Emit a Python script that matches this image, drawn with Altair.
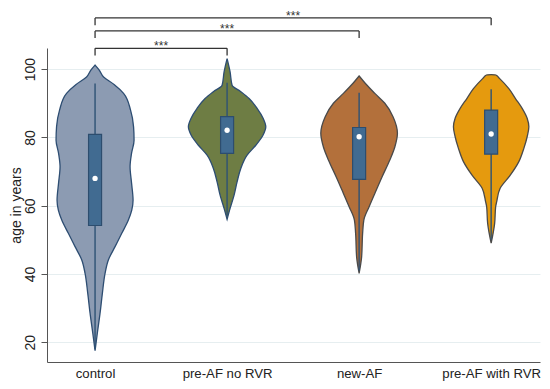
import altair as alt
import pandas as pd

# ---- data ----
categories = ["control", "pre-AF no RVR", "new-AF", "pre-AF with RVR"]
fill_colors = ["#8c9bb2", "#6e7d44", "#b3703b", "#e59a0e"]
line_colors = ["#2d4d72", "#2d4d72", "#4a4a4a", "#4a4a4a"]

# violin outlines: age values and half-width (density, px units) at each age
control_age = [101.2, 99.8, 97.7, 95.5, 92.9, 88.0, 83.1, 79.2, 75.4, 71.4, 66.6, 61.6, 58.7, 55.8, 51.9, 48.0, 44.1, 40.2, 34.3, 28.5, 22.7, 17.5]
control_w   = [0.0,   4.0,  8.5,  19.0, 28.5, 35.5, 38.5, 39.0, 36.5, 35.0, 36.5, 38.0, 36.7, 33.3, 26.7, 20.0, 13.3, 10.0, 7.3,  5.0,  2.3,  0.0]

noRVR_age = [103.1, 99.2, 95.3, 93.4, 91.4, 88.5, 85.6, 83.1, 80.7, 77.7, 74.8, 70.9, 67.0, 63.1, 59.2, 56.0]
noRVR_w   = [0.0,   3.0,  5.0,  13.7, 22.0, 30.0, 36.0, 38.7, 36.0, 28.7, 20.0, 13.7, 10.0, 7.0,  3.0,  0.0]

newAF_age = [98.0, 95.8, 92.9, 90.0, 86.0, 81.2, 77.2, 73.4, 68.5, 63.6, 59.7, 55.8, 51.9, 45.0, 40.2]
newAF_w   = [0.0,  6.3,  15.7, 25.7, 34.0, 38.3, 35.7, 30.7, 23.0, 15.7, 10.0, 4.7,  3.5,  2.5,  0.0]

withRVR_age = [98.4, 98.3, 97.3, 94.3, 91.4, 88.5, 85.6, 83.1, 80.2, 76.8, 72.9, 69.0, 65.1, 61.1, 59.7, 54.8, 49.0]
withRVR_w   = [0.0,  4.7,  8.3,  17.7, 24.3, 31.0, 36.0, 37.7, 36.0, 32.7, 27.7, 19.3, 9.0,  5.5,  4.5,  3.5,  0.0]

# box plot summaries
q1 = [54.2, 75.3, 67.7, 75.1]
q3 = [80.9, 86.1, 82.9, 88.0]
median = [68.0, 82.1, 80.2, 81.0]
whisk_lo = [18.0, 57.0, 41.0, 50.0]
whisk_hi = [95.8, 96.0, 93.1, 94.1]

# significance brackets (from group index to group index)
brk_from = [1, 1, 1]
brk_to = [2, 3, 4]
brk_level = [106.1, 111.2, 115.0]
brk_label = ["***", "***", "***"]

# ---- build tables ----
PX_PER_UNIT = 132.0
BOX_HALF = 6.5 / PX_PER_UNIT
FS = 14
FSX = 13.2

xscale = alt.Scale(domain=[0.636, 4.37], nice=False, zero=False)
yscale = alt.Scale(domain=[14.2, 106.2], nice=False, zero=False)

label_js = "[" + ",".join("'" + c + "'" for c in categories) + "]"

xaxis = alt.Axis(values=[1, 2, 3, 4], labelExpr=label_js + "[datum.value-1]", title=None,
                 grid=False, ticks=False, labelFontSize=FSX, labelColor="#222222",
                 labelPadding=5, domainColor="#555555", labelFont="Liberation Sans")
yaxis = alt.Axis(values=[20, 40, 60, 80, 100], title="age in years", grid=True,
                 gridColor="#e6eef0", labelAngle=-90, labelAlign="center", labelBaseline="bottom",
                 labelFontSize=FS, labelColor="#222222", tickSize=6, tickColor="#555555",
                 domainColor="#555555", labelPadding=4, titleFontSize=FS,
                 titleFontWeight="normal", titleColor="#222222", titlePadding=0,
                 labelFont="Liberation Sans", titleFont="Liberation Sans")

layers = []
violin_sets = [(control_age, control_w), (noRVR_age, noRVR_w),
               (newAF_age, newAF_w), (withRVR_age, withRVR_w)]
for i, (ages, ws) in enumerate(violin_sets):
    vdf = pd.DataFrame({"age": ages, "w": ws})
    vdf["left"] = (i + 1) - vdf["w"] / PX_PER_UNIT
    vdf["right"] = (i + 1) + vdf["w"] / PX_PER_UNIT
    vdf = vdf.sort_values("age")
    layers.append(
        alt.Chart(vdf).mark_area(orient="horizontal", interpolate="monotone",
                                 fill=fill_colors[i], stroke=line_colors[i],
                                 strokeWidth=1.3, opacity=1).encode(
            y=alt.Y("age:Q", scale=yscale, axis=yaxis),
            x=alt.X("left:Q", scale=xscale, stack=None, axis=xaxis),
            x2="right:Q")
    )

bdf = pd.DataFrame({
    "idx": [1, 2, 3, 4], "q1": q1, "q3": q3, "median": median,
    "lo": whisk_lo, "hi": whisk_hi,
})
bdf["bl"] = bdf["idx"] - BOX_HALF
bdf["br"] = bdf["idx"] + BOX_HALF

kdf = pd.DataFrame({"x1": brk_from, "x2": brk_to, "y": brk_level, "label": brk_label})
kdf["ydown"] = kdf["y"] - 2.1
kdf["mid"] = (kdf["x1"] + kdf["x2"]) / 2
tdf = pd.concat([
    pd.DataFrame({"x": kdf["x1"], "y": kdf["y"], "y2": kdf["ydown"]}),
    pd.DataFrame({"x": kdf["x2"], "y": kdf["y"], "y2": kdf["ydown"]}),
])

whisk = alt.Chart(bdf).mark_rule(color="#2e5275", strokeWidth=1.4).encode(
    x=alt.X("idx:Q", scale=xscale), y=alt.Y("lo:Q", scale=yscale), y2="hi:Q")

box = alt.Chart(bdf).mark_rect(fill="#416b91", stroke="#2d4d6e", strokeWidth=1.2).encode(
    x=alt.X("bl:Q", scale=xscale), x2="br:Q", y=alt.Y("q1:Q", scale=yscale), y2="q3:Q")

med = alt.Chart(bdf).mark_point(filled=True, color="white", size=28, opacity=1).encode(
    x=alt.X("idx:Q", scale=xscale), y=alt.Y("median:Q", scale=yscale))

brk_h = alt.Chart(kdf).mark_rule(color="#333333", strokeWidth=1.3).encode(
    x=alt.X("x1:Q", scale=xscale), x2="x2:Q", y=alt.Y("y:Q", scale=yscale))
brk_v = alt.Chart(tdf).mark_rule(color="#333333", strokeWidth=1.3).encode(
    x=alt.X("x:Q", scale=xscale), y=alt.Y("y:Q", scale=yscale), y2="y2:Q")
brk_t = alt.Chart(kdf).mark_text(fontSize=12, color="#333333", baseline="alphabetic", dy=2,
                                  font="Liberation Sans").encode(
    x=alt.X("mid:Q", scale=xscale), y=alt.Y("y:Q", scale=yscale), text="label:N")

chart = alt.layer(*layers, whisk, box, med, brk_h, brk_v, brk_t).properties(
    width=493, height=314,
    autosize=alt.AutoSizeParams(type="none"),
    padding={"left": 39, "top": 40, "right": 2, "bottom": 19},
    background="white",
).configure_view(stroke=None)

chart.save("out.html", embed_options={"renderer": "svg", "actions": False})
